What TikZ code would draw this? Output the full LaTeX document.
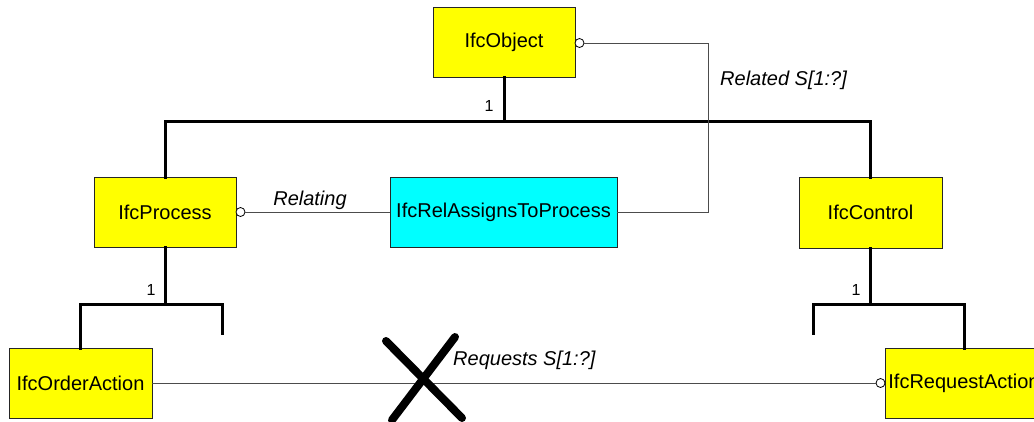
\documentclass[tikz,border=0pt]{standalone}
\usepackage{fontspec}
\setmainfont{Liberation Sans}
\definecolor{entyellow}{RGB}{255,255,0}
\definecolor{relcyan}{RGB}{0,255,255}
\begin{document}
\begin{tikzpicture}[x=1pt,y=-1pt,
  ent/.style={draw=black!85,line width=0.9pt,fill=entyellow,inner sep=0pt,outer sep=0pt,
    minimum width=142pt,minimum height=70pt,font=\fontsize{20}{23}\selectfont},
  rel/.style={ent,fill=relcyan,minimum width=227pt},
  sub/.style={line width=3pt,line cap=rect},
  assoc/.style={line width=0.9pt,draw=black!70},
  ring/.style={circle,draw=black,fill=white,line width=0.8pt,inner sep=0pt,minimum size=9pt},
  lab/.style={font=\fontsize{20}{23}\selectfont\itshape,inner sep=0pt},
  one/.style={font=\fontsize{16}{18}\selectfont,inner sep=0pt}]
\clip (0,0) rectangle (1034,421);
\fill[white] (0,0) rectangle (1034,421);
% entities
\node[ent] (obj) at (504,42.5) {IfcObject};
\node[ent] (proc) at (165,212) {IfcProcess};
\node[rel] (ratp) at (503.5,212) {IfcRelAssignsToProcess};
\node[ent,minimum width=143pt,minimum height=71pt] (ctrl) at (870.5,212.5) {IfcControl};
\node[ent,minimum width=143pt] (order) at (80.5,383) {IfcOrderAction};
\node[ent,minimum width=158pt] (req) at (964,383) {IfcRequestAction};
% subtype trees
\coordinate (j0) at (504,121);
\coordinate (jl) at (165,121);
\coordinate (jr) at (870.5,121);
\draw[sub] (obj.south) -- (j0);
\draw[sub] (jl) -- (jr);
\draw[sub] (jl) -- (proc.north);
\draw[sub] (jr) -- (ctrl.north);
\node[one] (n1) at (489,106) {1};
\coordinate (p0) at (165,304);
\coordinate (pl) at (80.5,304);
\coordinate (pr) at (222,304);
\coordinate (pe) at (222,333);
\draw[sub] (proc.south) -- (p0);
\draw[sub] (pl) -- (pr) -- (pe);
\draw[sub] (pl) -- (order.north);
\node[one] (n2) at (151,290) {1};
\coordinate (c0) at (870.5,304);
\coordinate (cl) at (813,304);
\coordinate (cr) at (964,304);
\coordinate (ce) at (813,333);
\draw[sub] (ctrl.south) -- (c0);
\draw[sub] (ce) -- (cl) -- (cr);
\draw[sub] (cr) -- (req.north);
\node[one] (n3) at (856,290) {1};
% associations
\node[ring] (r1) at (240.5,212) {};
\draw[assoc] (ratp.west) -- (r1.east);
\node[lab] (l1) at (310,200) {Relating};
\node[ring] (r2) at (579.5,43) {};
\coordinate (k1) at (708,212);
\coordinate (k2) at (708,43);
\draw[assoc] (ratp.east) -- (k1) -- (k2) -- (r2.east);
\node[lab,anchor=west] (l2) at (720,80) {Related S[1:?]};
\node[ring] (r3) at (880.5,383) {};
\draw[assoc] (order.east) -- (r3.west);
\node[lab,anchor=west] (l3) at (453,360) {Requests S[1:?]};
% cross
\coordinate (x1) at (386,341);
\coordinate (x2) at (462,418);
\coordinate (x3) at (455,337);
\coordinate (x4) at (392,420);
\draw[line width=8pt,line cap=round] (x1) -- (x2);
\draw[line width=8pt,line cap=round] (x3) -- (x4);
\end{tikzpicture}
\end{document}
